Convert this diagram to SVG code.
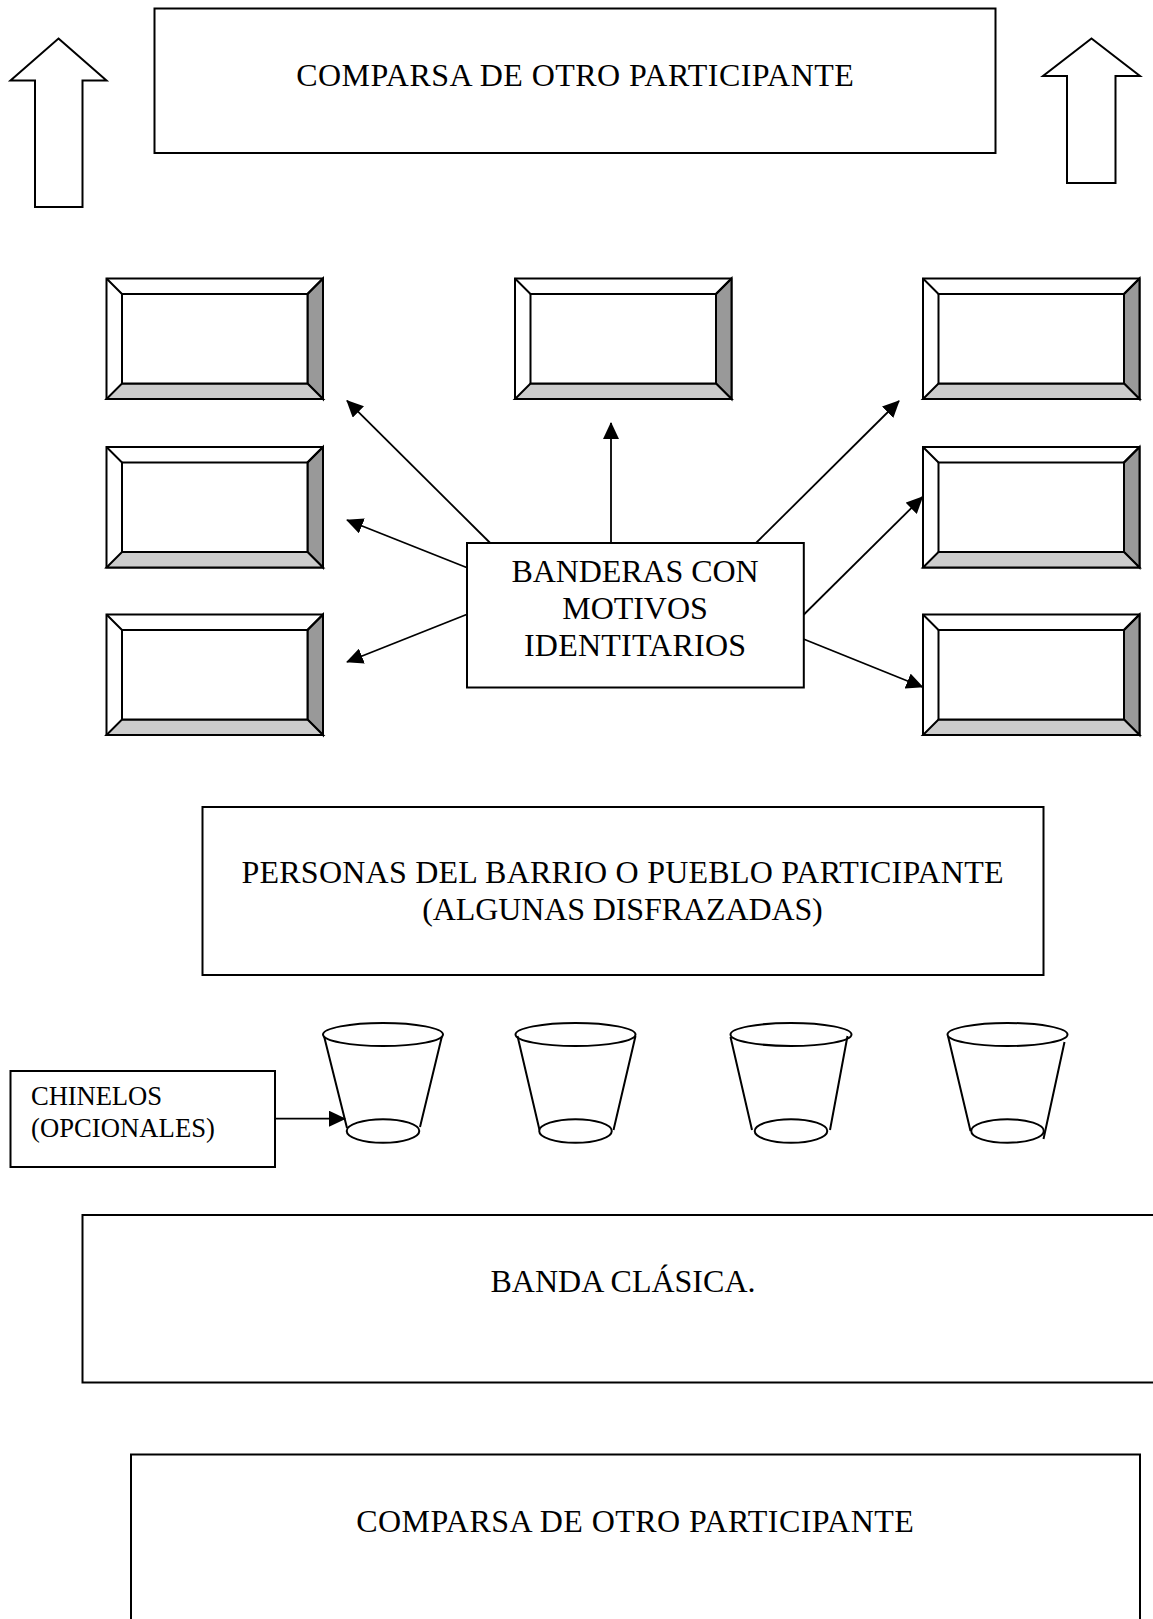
<svg xmlns="http://www.w3.org/2000/svg" width="1153" height="1619" viewBox="0 0 1153 1619">
<style>
.s{fill:#fff;stroke:#000;stroke-width:2}
.n{fill:none;stroke:#000;stroke-width:2}
.c{fill:none;stroke:#000;stroke-width:1.8;marker-end:url(#ah)}
text{font-family:"Liberation Serif","Times New Roman",serif;font-size:32px;fill:#000;text-anchor:middle}
.sm{font-size:26.67px;text-anchor:start}
.d{fill:#999;stroke:#000;stroke-width:2}
.g{fill:#ccc;stroke:#000;stroke-width:2}
</style>
<defs>
<marker id="ah" markerUnits="userSpaceOnUse" markerWidth="17" markerHeight="16" refX="16" refY="8" orient="auto"><path d="M0 0L17 8L0 16Z" fill="#000"/></marker>
<g id="bev">
<rect class="s" width="216.500" height="120.500"/>
<path class="d" d="M216.500 0V120.500L201 105V15.500Z"/>
<path class="g" d="M0 120.500H216.500L201 105H15.500Z"/>
<rect class="s" x="15.500" y="15.500" width="185.500" height="89.500"/>
<path class="n" d="M0 0L15.500 15.500M216.500 0L201 15.500"/>
</g>
</defs>
<g id="arrow-left"><path class="s" d="M58.500 38.500L106.500 80.500H82.500V207H35V80.500H10.500Z"/></g>
<g id="arrow-right"><path class="s" d="M1091.500 38.500L1140 76H1115.500V183H1067V76H1043Z"/></g>
<g id="top-box"><rect class="s" x="154.500" y="8.500" width="841" height="144.500"/><text x="575" y="85.500" textLength="557.500">COMPARSA DE OTRO PARTICIPANTE</text></g>
<g id="flag-1"><use href="#bev" x="106.500" y="278.500"/></g>
<g id="flag-2"><use href="#bev" x="515" y="278.500"/></g>
<g id="flag-3"><use href="#bev" x="923" y="278.500"/></g>
<g id="flag-4"><use href="#bev" x="106.500" y="447"/></g>
<g id="flag-5"><use href="#bev" x="923" y="447"/></g>
<g id="flag-6"><use href="#bev" x="106.500" y="614.500"/></g>
<g id="flag-7"><use href="#bev" x="923" y="614.500"/></g>
<g id="connectors">
<path class="c" d="M490.700 543.500L347 400.700"/>
<path class="c" d="M466.600 567.500L347 520"/>
<path class="c" d="M466.600 614.500L347 662"/>
<path class="c" d="M611 543V423"/>
<path class="c" d="M755.500 543.500L899 401"/>
<path class="c" d="M803.400 615L922.500 497"/>
<path class="c" d="M803.400 639L922.500 687"/>
<path class="c" d="M275 1118.700H345"/>
</g>
<g id="center-box"><rect class="s" x="467" y="543" width="336.800" height="144.500"/><text x="635" y="581.500" textLength="247">BANDERAS CON</text><text x="635" y="618.500" textLength="145.500">MOTIVOS</text><text x="635" y="655.500" textLength="222">IDENTITARIOS</text></g>
<g id="people-box"><rect class="s" x="202.500" y="807" width="841" height="168"/><text x="622.500" y="882.500" textLength="762">PERSONAS DEL BARRIO O PUEBLO PARTICIPANTE</text><text x="622.500" y="920" textLength="400.500">(ALGUNAS DISFRAZADAS)</text></g>
<g id="chinelos-box"><rect class="s" x="10.500" y="1071" width="264.500" height="96"/><text class="sm" x="31" y="1104.500" textLength="131">CHINELOS</text><text class="sm" x="31" y="1136.500" textLength="184">(OPCIONALES)</text></g>
<g id="cup-1"><ellipse class="s" cx="383" cy="1034.500" rx="60" ry="11.500"/><path class="n" d="M324 1036L347 1128M442 1036L420 1127"/><ellipse class="s" cx="383" cy="1131" rx="36.300" ry="11.800"/></g>
<g id="cup-2"><ellipse class="s" cx="575.500" cy="1034.500" rx="60" ry="11.500"/><path class="n" d="M517.500 1036L539.500 1130M635.500 1036L613.500 1130"/><ellipse class="s" cx="575.500" cy="1131" rx="36.300" ry="11.800"/></g>
<g id="cup-3"><ellipse class="s" cx="791" cy="1034.500" rx="60.500" ry="11.500"/><path class="n" d="M730.500 1037L752 1130M847.500 1036L830 1130"/><ellipse class="s" cx="791" cy="1131" rx="36.300" ry="11.800"/></g>
<g id="cup-4"><ellipse class="s" cx="1007.500" cy="1034.500" rx="60" ry="11.500"/><path class="n" d="M948 1036L970.500 1131M1064.500 1042L1043.500 1139"/><ellipse class="s" cx="1007.500" cy="1131" rx="36.300" ry="11.800"/></g>
<g id="band-box"><rect class="s" x="82.500" y="1215" width="1090" height="167.500"/><text x="623" y="1291.500" textLength="265">BANDA CLÁSICA.</text></g>
<g id="bottom-box"><rect class="s" x="131" y="1454.500" width="1009" height="190"/><text x="635" y="1531.500" textLength="557.500">COMPARSA DE OTRO PARTICIPANTE</text></g>
</svg>
